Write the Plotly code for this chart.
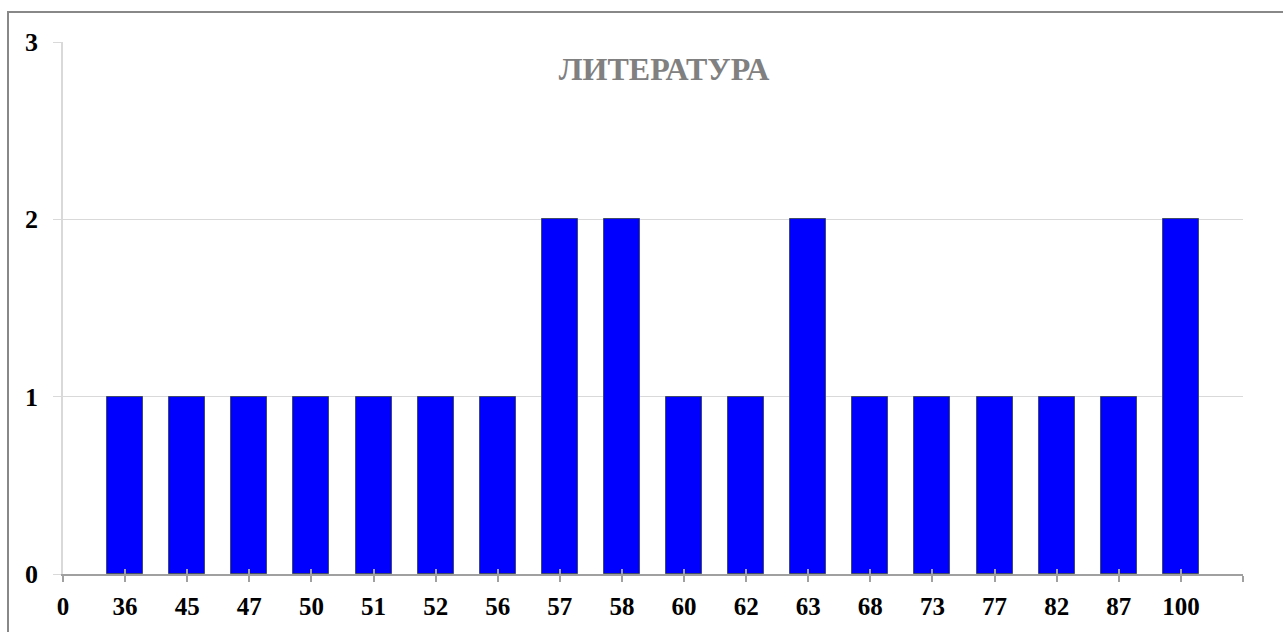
import plotly.graph_objects as go

categories = ["0", "36", "45", "47", "50", "51", "52", "56", "57", "58", "60",
              "62", "63", "68", "73", "77", "82", "87", "100"]
counts = [0, 1, 1, 1, 1, 1, 1, 1, 2, 2, 1, 1, 2, 1, 1, 1, 1, 1, 2]
y_ticks = [0, 1, 2, 3]
title_text = "ЛИТЕРАТУРА"

positions = list(range(len(categories)))
tick_positions = list(range(len(categories) + 1))
tick_labels = categories + [""]

W, H = 1283, 632
ml, mr, mt, mb = 63, 40, 42, 58
FONT = "Liberation Serif, Times New Roman, serif"

fig = go.Figure()
fig.add_trace(go.Bar(
    x=positions, y=counts, width=0.58,
    marker=dict(color="#0000FF",
                line=dict(color="#404A6A", width=[0 if c == 0 else 1 for c in counts])),
    hoverinfo="skip", showlegend=False,
))

# overlay axis to provide upward tick halves
fig.add_trace(go.Scatter(x=[positions[0]], y=[0], xaxis="x2", mode="markers",
                         marker=dict(opacity=0), hoverinfo="skip", showlegend=False))

pw = W - ml - mr
ph = H - mt - mb
fig.update_layout(
    width=W, height=H,
    margin=dict(l=ml, r=mr, t=mt, b=mb),
    paper_bgcolor="white", plot_bgcolor="white",
    font=dict(family=FONT, color="black"),
    title=dict(text=title_text, x=664 / W, xanchor="center", y=1 - 69 / H, yanchor="middle",
               font=dict(family=FONT, size=32, color="#808080", weight="bold")),
    xaxis=dict(range=[0, len(categories)], tickvals=tick_positions, ticktext=tick_labels,
               showgrid=False, zeroline=False, showline=True, linecolor="#A0A0A0", linewidth=1.5,
               ticks="outside", ticklen=6, tickcolor="#A0A0A0", tickwidth=1.5,
               tickfont=dict(family=FONT, size=25, color="black", weight="bold"),
               ticklabelstandoff=3),
    xaxis2=dict(range=[0, len(categories)], overlaying="x", anchor="y", side="bottom",
                tickvals=tick_positions, showticklabels=False, showgrid=False, zeroline=False,
                ticks="inside", ticklen=5, tickcolor="#A0A0A0", tickwidth=1.5, showline=False),
    yaxis=dict(range=[0, 3], tickvals=y_ticks, showgrid=True, gridcolor="#D9D9D9", gridwidth=1,
               zeroline=False, showline=True, linecolor="#D9D9D9", linewidth=1.5,
               ticks="outside", ticklen=8, tickcolor="#D9D9D9",
               tickfont=dict(family=FONT, size=26, color="black", weight="bold"),
               ticklabelstandoff=10),
    bargap=0,
    shapes=[dict(type="rect", xref="paper", yref="paper",
                 x0=(8 - ml) / pw, x1=(W + 20 - ml) / pw,
                 y0=-(H + 20 - mt - ph) / ph, y1=1 + (mt - 12) / ph,
                 line=dict(color="#888888", width=2), fillcolor="rgba(0,0,0,0)", layer="above")],
)

fig.write_html("out.html",
               config={"displayModeBar": False},
               post_script="document.body.style.margin='0';document.body.style.overflow='hidden';")
